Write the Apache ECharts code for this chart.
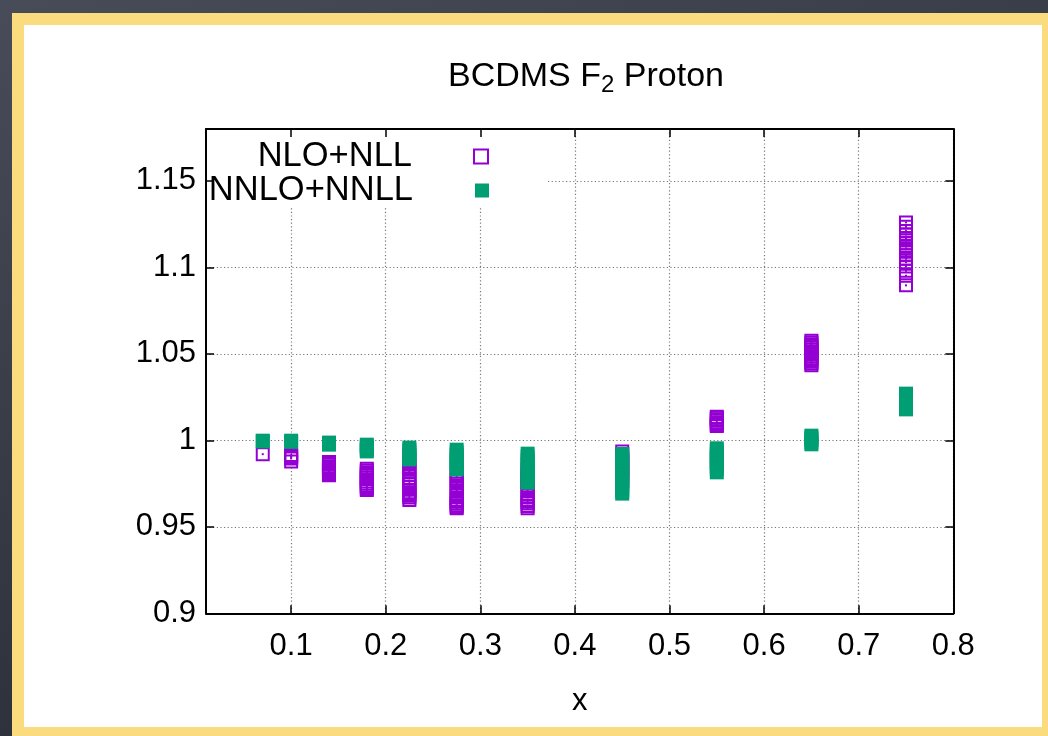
<!DOCTYPE html>
<html>
<head>
<meta charset="utf-8">
<script src="https://cdn.jsdelivr.net/npm/echarts@6/dist/echarts.min.js"></script>
<style>
  html, body { margin: 0; padding: 0; width: 1048px; height: 736px; overflow: hidden; }
  body { background: linear-gradient(160deg, #484c58 0%, #343843 50%, #22252c 100%); position: relative; }
  #frame { position: absolute; left: 12px; top: 13px; width: 1040px; height: 730px; background: #fadb7d; }
  #panel { position: absolute; left: 24px; top: 25px; width: 1018px; height: 702px; background: #ffffff; }
  #chart { position: absolute; left: 0; top: 0; width: 1048px; height: 736px; }
</style>
</head>
<body>
<div id="frame"></div>
<div id="panel"></div>
<div id="chart"></div>
<script>
// ---- data ----
const xBins = [0.07, 0.1, 0.14, 0.18, 0.225, 0.275, 0.35, 0.45, 0.55, 0.65, 0.75];

const nloValues = [
  [0.992],
  [0.9915, 0.991, 0.9903, 0.9895, 0.9877],
  [0.9875, 0.9868, 0.986, 0.985, 0.9842, 0.9835, 0.9828, 0.982, 0.9812, 0.9805, 0.9798],
  [0.9836, 0.9826, 0.9815, 0.9805, 0.9795, 0.9785, 0.9775, 0.9762, 0.975, 0.974, 0.973, 0.9722, 0.9713],
  [0.988, 0.986, 0.984, 0.982, 0.98, 0.978, 0.976, 0.9745, 0.973, 0.9715, 0.970, 0.969, 0.968, 0.967, 0.9655],
  [0.981, 0.979, 0.977, 0.975, 0.973, 0.971, 0.969, 0.967, 0.9655, 0.9645, 0.9635, 0.9625, 0.9615, 0.9607],
  [0.983, 0.981, 0.979, 0.977, 0.975, 0.973, 0.971, 0.969, 0.967, 0.9655, 0.9645, 0.9635, 0.962, 0.9607],
  [0.9935, 0.992, 0.99, 0.988, 0.986, 0.984, 0.982, 0.98, 0.978, 0.9765],
  [1.0137, 1.013, 1.0122, 1.0115, 1.0105, 1.0095, 1.0088, 1.0083],
  [1.0576, 1.0566, 1.0555, 1.0545, 1.0535, 1.0525, 1.0515, 1.0505, 1.0495, 1.0485, 1.0475, 1.0465, 1.0455, 1.0444, 1.0434],
  [1.126, 1.1235, 1.121, 1.119, 1.117, 1.1155, 1.114, 1.1125, 1.111, 1.109, 1.107, 1.105, 1.103, 1.1005, 1.098, 1.0952, 1.0896]
];

const nnloValues = [
  [0.9998, 0.9994],
  [0.9998, 0.9991],
  [0.9987, 0.9981, 0.9975],
  [0.9975, 0.9965, 0.9955, 0.9945, 0.9936],
  [0.9958, 0.9945, 0.993, 0.9915, 0.990, 0.989],
  [0.9946, 0.993, 0.9915, 0.99, 0.9885, 0.987, 0.9855, 0.984, 0.9832],
  [0.9923, 0.9905, 0.9885, 0.9865, 0.9845, 0.9825, 0.9805, 0.9785, 0.977, 0.9755],
  [0.9921, 0.99, 0.988, 0.986, 0.984, 0.982, 0.98, 0.978, 0.976, 0.974, 0.972, 0.9705, 0.9692],
  [0.9954, 0.994, 0.9925, 0.991, 0.9895, 0.988, 0.9865, 0.985, 0.9835, 0.9815],
  [1.0027, 1.0015, 1.0005, 0.999, 0.9977],
  [1.027, 1.025, 1.023, 1.021, 1.0195, 1.0179]
];

const xTicks = [0.1, 0.2, 0.3, 0.4, 0.5, 0.6, 0.7, 0.8];
const yTicks = [0.9, 0.95, 1, 1.05, 1.1, 1.15];
const seriesNames = ['NLO+NLL', 'NNLO+NNLL'];
const titleParts = ['BCDMS F', '2', ' Proton'];
const xName = 'x';

// ---- build ----
function toPairs(valuesByBin) {
  const out = [];
  xBins.forEach((x, i) => valuesByBin[i].forEach(v => out.push([x, v])));
  return out;
}
const nloData = toPairs(nloValues);
const nnloData = toPairs(nnloValues);

const FONT = 'Liberation Sans, Arial, Helvetica, sans-serif';
const PURPLE = '#9400d3';
const GREEN = '#009e73';
const XMIN = 0.01, XMAX = 0.8, YMIN = 0.9, YMAX = 1.18;

const chart = echarts.init(document.getElementById('chart'), null, { renderer: 'canvas' });

const borderAxis = (extra) => Object.assign({
  type: 'value',
  axisLine: { show: true, onZero: false, lineStyle: { color: '#000', width: 2 } },
  axisTick: { show: true, inside: true, length: 8, lineStyle: { color: '#000', width: 1.5 } },
  splitLine: { show: false },
  z: 5
}, extra);

const legendText = { fontFamily: FONT, fontSize: 34.5, color: '#000', lineHeight: 34, padding: [0, 57, 0, 0] };

const option = {
  animation: false,
  title: {
    text: '{a|' + titleParts[0] + '}{s|' + titleParts[1] + '}{a|' + titleParts[2] + '}',
    left: 581,
    top: 52,
    textAlign: 'center',
    textStyle: {
      fontWeight: 'normal',
      rich: {
        a: { fontFamily: FONT, fontSize: 34, fontWeight: 'normal', color: '#000', lineHeight: 40 },
        s: { fontFamily: FONT, fontSize: 24, fontWeight: 'normal', color: '#000', lineHeight: 24, verticalAlign: 'bottom' }
      }
    }
  },
  grid: { left: 206, right: 94.7, top: 129, bottom: 122.7, containLabel: false },
  legend: [
    {
      data: [seriesNames[0]], right: 559, top: 139, padding: 0, align: 'right',
      orient: 'vertical', itemWidth: 14, itemHeight: 14, icon: 'rect',
      selectedMode: false, textStyle: legendText
    },
    {
      data: [seriesNames[1]], right: 559, top: 173, padding: 0, align: 'right',
      orient: 'vertical', itemWidth: 14, itemHeight: 14, icon: 'rect',
      selectedMode: false, textStyle: legendText
    }
  ],
  graphic: [
    { type: 'rect', z: 1, silent: true, shape: { x: 207, y: 130, width: 341, height: 76 }, style: { fill: '#fff' } }
  ],
  xAxis: [
    borderAxis({
      position: 'bottom', min: XMIN, max: XMAX,
      axisTick: { show: true, inside: true, length: 8, customValues: xTicks, lineStyle: { color: '#000', width: 1.5 } },
      axisLabel: { show: true, customValues: xTicks, margin: 18, fontFamily: FONT, fontSize: 31, color: '#000' },
      name: xName, nameLocation: 'middle', nameGap: 73,
      nameTextStyle: { fontFamily: FONT, fontSize: 31, color: '#000' }
    }),
    borderAxis({
      position: 'top', min: XMIN, max: XMAX,
      axisTick: { show: true, inside: true, length: 8, customValues: xTicks, lineStyle: { color: '#000', width: 1.5 } },
      axisLabel: { show: false, customValues: xTicks }
    }),
    {
      type: 'value', position: 'bottom', min: XMIN, max: XMAX, z: 0,
      axisLine: { show: false }, axisLabel: { show: false, customValues: xTicks },
      axisTick: { show: false, customValues: xTicks },
      splitLine: { show: true, lineStyle: { color: '#777', width: 1.2, type: [1.2, 2.4] } }
    }
  ],
  yAxis: [
    borderAxis({
      position: 'left', min: YMIN, max: YMAX,
      axisTick: { show: true, inside: true, length: 8, customValues: yTicks, lineStyle: { color: '#000', width: 1.5 } },
      axisLabel: { show: true, customValues: yTicks, margin: 10, fontFamily: FONT, fontSize: 31, color: '#000' }
    }),
    borderAxis({
      position: 'right', min: YMIN, max: YMAX,
      axisTick: { show: true, inside: true, length: 8, customValues: yTicks, lineStyle: { color: '#000', width: 1.5 } },
      axisLabel: { show: false, customValues: yTicks }
    }),
    {
      type: 'value', position: 'left', min: YMIN, max: YMAX, z: 0,
      axisLine: { show: false }, axisLabel: { show: false, customValues: yTicks },
      axisTick: { show: false, customValues: yTicks },
      splitLine: { show: true, lineStyle: { color: '#777', width: 1.2, type: [1.2, 2.4] } }
    }
  ],
  series: [
    {
      name: seriesNames[0], type: 'scatter', xAxisIndex: 0, yAxisIndex: 0,
      symbol: 'rect', symbolSize: 12, data: nloData, z: 2,
      itemStyle: { color: 'rgba(0,0,0,0)', borderColor: PURPLE, borderWidth: 2, opacity: 1 }
    },
    {
      name: 'nlo-center', type: 'scatter', xAxisIndex: 0, yAxisIndex: 0,
      symbol: 'rect', symbolSize: 2, data: nloData, z: 2,
      itemStyle: { color: PURPLE, opacity: 1 }
    },
    {
      name: seriesNames[1], type: 'scatter', xAxisIndex: 0, yAxisIndex: 0,
      symbol: 'rect', symbolSize: 14, data: nnloData, z: 3,
      itemStyle: { color: GREEN, opacity: 1 }
    }
  ]
};
chart.setOption(option);
</script>
</body>
</html>
